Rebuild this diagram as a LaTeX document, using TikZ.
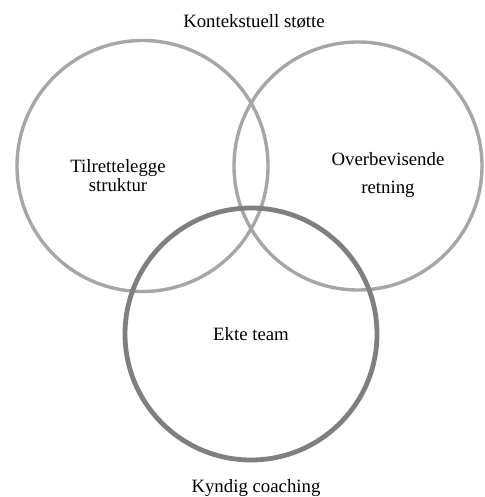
\documentclass[tikz,border=0pt]{standalone}
\usepackage{fontspec}
\setmainfont{Liberation Serif}
\definecolor{lightring}{HTML}{A6A6A6}
\definecolor{darkring}{HTML}{7F7F7F}
\begin{document}
\begin{tikzpicture}[x=1pt,y=1pt,
  ring/.style={draw=lightring,line width=3.4pt},
  mainring/.style={draw=darkring,line width=4.8pt},
  lbl/.style={font=\fontsize{18.8}{20}\selectfont,align=center,inner sep=0pt,anchor=base}]
\useasboundingbox (0,0) rectangle (484,497);
\node[ring,circle,minimum size=251pt,inner sep=0pt] (left) at (142.5,331) {};
\node[ring,circle,minimum size=248pt,inner sep=0pt] (right) at (358,331) {};
\node[mainring,circle,minimum size=252pt,inner sep=0pt] (bottom) at (251,163) {};
\node[lbl] (ctx) at (254,469) {Kontekstuell støtte};
\node[lbl] (struct) at (118,305.5) {Tilrettelegge\\[-1.5pt]struktur};
\node[lbl] (dir) at (388,303) {Overbevisende\\[8pt]retning};
\node[lbl] (team) at (251,156.5) {Ekte team};
\node[lbl] (coach) at (256,5) {Kyndig coaching};
\end{tikzpicture}
\end{document}
